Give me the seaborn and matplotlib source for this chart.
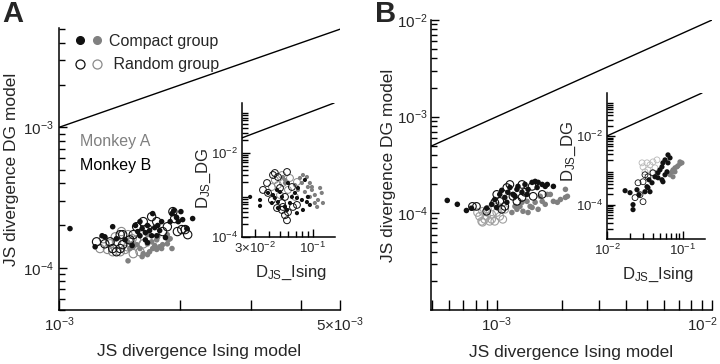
import numpy as np
import pandas as pd
import matplotlib
matplotlib.use("Agg")
import matplotlib.pyplot as plt
import matplotlib.transforms as mtransforms
import seaborn as sns
from matplotlib.lines import Line2D
from matplotlib.legend_handler import HandlerTuple

# ---------------- data ----------------
# Panel A, main axes (x in units of 1e-3, y in units of 1e-4)
pA_mB_comp_x = [1.065, 1.23, 1.28, 1.30, 1.36, 1.39, 1.46, 1.55, 1.57, 1.59, 1.61, 1.64, 1.66, 1.68,
                1.70, 1.71, 1.73, 1.75, 1.78, 1.66, 1.80, 1.84, 1.89, 1.91, 1.93, 1.96, 1.98, 2.01,
                2.03, 2.08, 2.15, 1.52, 1.64, 1.76, 1.59]
pA_mB_comp_y = [1.90, 1.41, 1.69, 1.66, 1.96, 1.61, 1.58, 2.00, 1.81, 1.69, 1.90, 1.78, 2.00, 1.84,
                1.69, 2.43, 1.93, 1.69, 1.84, 1.51, 2.13, 1.64, 2.13, 2.43, 2.55, 2.28, 2.13, 2.51,
                2.20, 1.90, 2.24, 1.44, 1.58, 2.00, 2.13]
pA_mB_rand_x = [1.24, 1.34, 1.36, 1.39, 1.42, 1.44, 1.44, 1.50, 1.53, 1.56, 1.62, 1.66, 1.70, 1.75,
                1.81, 1.86, 1.92, 1.94, 1.97, 2.02, 2.06, 2.09, 1.42, 1.30]
pA_mB_rand_y = [1.53, 1.53, 1.37, 1.30, 1.37, 1.46, 1.72, 1.58, 1.72, 1.96, 2.13, 1.90, 2.31, 2.13,
                1.81, 1.96, 2.51, 2.24, 1.81, 1.87, 1.87, 1.72, 1.72, 1.48]
pA_mA_comp_x = [1.485, 1.61, 1.62, 1.66, 1.71, 1.75, 1.78, 1.81, 1.86, 1.89, 1.91, 1.80, 1.68, 1.59,
                1.53, 1.52, 1.56, 1.66, 1.70, 1.75, 1.76, 1.66, 1.86, 1.87, 1.50, 1.48, 1.73]
pA_mA_comp_y = [1.12, 1.20, 1.26, 1.24, 1.37, 1.35, 1.41, 1.46, 1.48, 1.61, 1.37, 1.37, 1.30, 1.37,
                1.41, 1.48, 1.46, 1.48, 1.53, 1.58, 1.66, 1.72, 1.72, 1.58, 1.37, 1.53, 1.44]
pA_mA_rand_x = [1.265, 1.32, 1.36, 1.42, 1.46, 1.34, 1.29, 1.39, 1.48, 1.53, 1.59, 1.52, 1.485, 1.43,
                1.38, 1.62, 1.56]
pA_mA_rand_y = [1.37, 1.35, 1.30, 1.30, 1.35, 1.48, 1.61, 1.53, 1.41, 1.26, 1.30, 1.61, 1.72, 1.81,
                1.66, 1.48, 1.58]

# Panel A, inset (x plain, y in units of 1e-3)
pAi_mB_comp_x = [0.0271, 0.0333, 0.0333, 0.0393, 0.0436, 0.0426, 0.0483, 0.0474, 0.0525, 0.0559,
                 0.0583, 0.0620, 0.0646, 0.0688, 0.0732, 0.0717, 0.0795, 0.0812, 0.0846, 0.0882,
                 0.0900, 0.0938, 0.0717, 0.0504, 0.0595, 0.0483, 0.0453]
pAi_mB_comp_y = [0.90, 0.76, 0.55, 1.12, 1.00, 0.645, 0.68, 1.32, 0.90, 0.52, 0.44, 0.645, 0.90,
                 1.12, 1.47, 0.85, 0.76, 0.44, 2.28, 0.68, 0.90, 0.58, 0.37, 1.18, 1.93, 0.49, 0.85]
pAi_mA_comp_x = [0.0812, 0.0882, 0.0938, 0.0978, 0.104, 0.111, 0.116, 0.120, 0.109, 0.104, 0.0978,
                 0.0900, 0.0795, 0.0763, 0.0732, 0.0688, 0.0559, 0.0559, 0.123, 0.0846, 0.0938, 0.0536]
pAi_mA_comp_y = [2.99, 2.68, 1.93, 1.55, 1.00, 0.76, 1.47, 1.12, 0.52, 0.645, 1.32, 1.55, 1.93, 2.54,
                 1.32, 1.73, 1.93, 2.28, 0.645, 1.18, 0.90, 2.68]
pAi_mB_rand_x = [0.0385, 0.0393, 0.0436, 0.0453, 0.0483, 0.0504, 0.0525, 0.0536, 0.0559, 0.0583,
                 0.0595, 0.0525, 0.0474, 0.0660, 0.0717, 0.0583, 0.0559, 0.0646, 0.0426, 0.0354]
pAi_mB_rand_y = [1.93, 1.12, 2.99, 3.34, 2.68, 1.47, 0.645, 0.52, 0.33, 0.25, 0.39, 0.44, 0.49, 0.52,
                 0.58, 3.53, 0.90, 1.55, 0.76, 1.32]
pAi_mA_rand_x = [0.0453, 0.0525, 0.0595, 0.0688, 0.0483, 0.0426, 0.0620, 0.0717, 0.0536, 0.0504]
pAi_mA_rand_y = [2.28, 2.99, 1.32, 0.90, 1.73, 1.55, 2.54, 2.04, 1.93, 1.00]

# Panel B, main axes (x in units of 1e-3, y in units of 1e-4)
pB_mB_comp_x = [0.589, 0.656, 0.723, 0.763, 0.898, 0.947, 0.979, 1.033, 1.055, 1.090, 1.126, 1.151,
                1.189, 1.241, 1.255, 1.310, 1.353, 1.398, 1.460, 1.508, 1.54, 1.557, 1.626, 1.680,
                1.717, 1.833, 1.383, 1.215, 1.00, 1.114]
pB_mB_comp_y = [1.36, 1.24, 1.07, 1.13, 1.13, 1.24, 1.39, 1.57, 1.73, 1.46, 1.65, 1.85, 1.57, 1.77,
                1.90, 1.65, 1.99, 1.77, 2.09, 2.14, 1.85, 2.09, 1.99, 1.90, 1.99, 1.90, 1.57, 1.50,
                1.15, 1.30]
pB_mB_rand_x = [0.771, 0.805, 0.898, 1.00, 1.033, 1.114, 1.151, 1.189, 1.241, 1.310, 1.353, 1.460,
                1.476, 1.310, 1.626, 1.055, 0.979, 1.090]
pB_mB_rand_y = [1.18, 1.18, 1.05, 1.57, 1.33, 1.85, 1.99, 1.50, 1.33, 1.46, 1.65, 1.90, 1.50, 1.99,
                1.57, 1.10, 1.30, 1.18]
pB_mA_rand_x = [0.814, 0.851, 0.859, 0.832, 0.898, 0.947, 0.979, 1.00, 1.033, 1.067, 1.090, 0.907,
                0.947, 1.011, 0.879, 0.927, 0.859]
pB_mA_rand_y = [1.02, 0.827, 0.808, 0.931, 0.931, 0.867, 0.827, 1.02, 0.931, 0.867, 1.10, 1.10,
                0.977, 1.18, 0.867, 0.827, 1.05]
pB_mA_comp_x = [1.176, 1.241, 1.282, 1.324, 1.383, 1.429, 1.508, 1.557, 1.626, 1.680, 1.774, 1.833,
                1.913, 1.977, 2.085, 2.085, 1.215, 1.310, 1.398, 1.592, 1.717, 2.13, 1.46]
pB_mA_comp_y = [1.02, 1.10, 1.18, 1.05, 1.33, 1.18, 1.30, 1.10, 1.33, 1.24, 1.57, 1.33, 1.30, 1.39,
                1.77, 1.46, 1.18, 1.30, 1.02, 1.50, 1.57, 1.50, 1.15]

# Panel B, inset (x in units of 1e-2, y in units of 1e-3)
pBi_mB_comp_x = [1.73, 2.01, 2.20, 2.20, 2.48, 2.64, 3.16, 3.46, 3.68, 3.36, 3.57, 4.28, 4.69, 4.98,
                 5.29, 5.45, 5.80, 6.35, 6.75, 6.16, 5.29, 4.69, 5.80, 6.35, 5.45, 3.91]
pBi_mB_comp_y = [0.255, 0.223, 0.100, 0.0716, 0.272, 0.195, 0.238, 0.311, 0.238, 0.333, 0.531, 0.648,
                 0.847, 1.03, 1.26, 1.65, 2.01, 2.81, 2.30, 0.905, 0.531, 0.607, 0.741, 1.65, 0.464,
                 0.434]
pBi_mA_comp_x = [7.17, 7.39, 7.85, 8.34, 8.59, 9.13, 9.70, 7.39, 9.13, 6.75, 7.85]
pBi_mA_comp_y = [0.905, 1.03, 1.18, 1.26, 1.35, 1.54, 1.65, 0.648, 1.76, 0.741, 0.905]
pBi_mA_rand_x = [2.98, 3.36, 3.68, 4.03, 4.28, 3.16, 3.46, 4.55, 3.91, 2.89]
pBi_mA_rand_y = [1.26, 1.65, 1.44, 1.76, 1.18, 0.905, 1.03, 2.01, 0.847, 1.65]
pBi_mB_rand_x = [2.56, 2.98, 2.34, 2.98, 3.46, 4.03, 2.72, 3.16]
pBi_mB_rand_y = [0.434, 0.464, 0.160, 0.122, 0.648, 0.847, 0.195, 0.741]

# ---------------- style ----------------
sns.set_style("ticks")
plt.rcParams["font.family"] = ["Liberation Sans", "DejaVu Sans"]
plt.rcParams["mathtext.fontset"] = "custom"
plt.rcParams["mathtext.rm"] = "Liberation Sans"
plt.rcParams["mathtext.it"] = "Liberation Sans:italic"
plt.rcParams["mathtext.bf"] = "Liberation Sans:bold"
plt.rcParams["axes.linewidth"] = 1.1
plt.rcParams["axes.edgecolor"] = "black"

BLACK = "#111111"
GRAY = "#808080"
GRAY_OPEN = "#8a8a8a"


def frame(xs, ys, sx, sy):
    return pd.DataFrame({"x": np.asarray(xs) * sx, "y": np.asarray(ys) * sy})


def draw_groups(ax, groups, s_fill, s_open, lw_open, gray_open=GRAY_OPEN):
    sns.scatterplot(data=groups["mA_rand"], x="x", y="y", ax=ax, s=s_open, marker="o",
                    facecolor="none", edgecolor=gray_open, linewidth=lw_open, zorder=3)
    sns.scatterplot(data=groups["mA_comp"], x="x", y="y", ax=ax, s=s_fill, marker="o",
                    color=GRAY, edgecolor="none", linewidth=0, zorder=3)
    sns.scatterplot(data=groups["mB_rand"], x="x", y="y", ax=ax, s=s_open, marker="o",
                    facecolor="none", edgecolor=BLACK, linewidth=lw_open, zorder=4)
    sns.scatterplot(data=groups["mB_comp"], x="x", y="y", ax=ax, s=s_fill, marker="o",
                    color=BLACK, edgecolor="none", linewidth=0, zorder=5)


def style_axes(ax, fs, pad=4):
    sns.despine(ax=ax)
    ax.set_xscale("log")
    ax.set_yscale("log")
    ax.tick_params(which="both", direction="in", color="black", width=1.0, labelsize=fs, pad=pad)
    ax.tick_params(which="major", length=6)
    ax.tick_params(which="minor", length=4)
    ax.axline((1e-3, 1e-3), (1e-2, 1e-2), color="black", lw=1.0, zorder=2)


fig = plt.figure(figsize=(7.2, 3.64), dpi=100)

# ---------- Panel A main ----------
axA = fig.add_axes([59 / 720, 54 / 364, 281 / 720, 282 / 364])
style_axes(axA, 11)
draw_groups(axA, {
    "mB_comp": frame(pA_mB_comp_x, pA_mB_comp_y, 1e-3, 1e-4),
    "mB_rand": frame(pA_mB_rand_x, pA_mB_rand_y, 1e-3, 1e-4),
    "mA_comp": frame(pA_mA_comp_x, pA_mA_comp_y, 1e-3, 1e-4),
    "mA_rand": frame(pA_mA_rand_x, pA_mA_rand_y, 1e-3, 1e-4),
}, s_fill=16, s_open=36, lw_open=0.8)
axA.set_xlim(1e-3, 5e-3)
axA.set_ylim(5e-5, 5.1e-3)
axA.set_xticks([1e-3, 5e-3], [r"$10^{-3}$", r"$5{\times}10^{-3}$"])
axA.set_xticks([2e-3, 3e-3, 4e-3], minor=True)
axA.set_xticklabels([], minor=True)
axA.set_yticks([1e-4, 1e-3], [r"$10^{-4}$", r"$10^{-3}$"])
axA.yaxis.set_minor_locator(matplotlib.ticker.LogLocator(base=10, subs=np.arange(2, 10)))
axA.yaxis.set_minor_formatter(matplotlib.ticker.NullFormatter())
axA.tick_params(axis="x", which="both", length=7)
axA.set_xlabel("JS divergence Ising model", fontsize=12.5)
axA.set_ylabel("JS divergence DG model", fontsize=12.5)
axA.xaxis.set_label_coords(0.5, -0.12)
axA.yaxis.set_label_coords(-0.142, 0.5)

# legend
h_comp = (Line2D([], [], marker="o", ls="none", color=BLACK, markersize=5.5),
          Line2D([], [], marker="o", ls="none", color=GRAY, markersize=5.5))
h_rand = (Line2D([], [], marker="o", ls="none", markerfacecolor="none", markeredgecolor=BLACK,
                 markersize=6.5, markeredgewidth=0.9),
          Line2D([], [], marker="o", ls="none", markerfacecolor="none", markeredgecolor=GRAY_OPEN,
                 markersize=6.5, markeredgewidth=0.9))
axA.legend([h_comp, h_rand], ["Compact group", " Random group"],
           handler_map={tuple: HandlerTuple(ndivide=None, pad=0.6)},
           loc="upper left", bbox_to_anchor=(0.06, 0.98), frameon=False, fontsize=11.5,
           handlelength=1.6, handletextpad=0.5, labelspacing=0.55, borderpad=0, borderaxespad=0)
axA.text(0.075, 0.596, "Monkey A", color=GRAY, fontsize=11.5, transform=axA.transAxes, va="center")
axA.text(0.075, 0.514, "Monkey B", color="black", fontsize=11.5, transform=axA.transAxes, va="center")

# ---------- Panel A inset ----------
axAi = fig.add_axes([242 / 720, 127 / 364, 93 / 720, 134 / 364])
axAi.patch.set_alpha(0)
style_axes(axAi, 9.5, pad=3)
draw_groups(axAi, {
    "mB_comp": frame(pAi_mB_comp_x, pAi_mB_comp_y, 1, 1e-3),
    "mB_rand": frame(pAi_mB_rand_x, pAi_mB_rand_y, 1, 1e-3),
    "mA_comp": frame(pAi_mA_comp_x, pAi_mA_comp_y, 1, 1e-3),
    "mA_rand": frame(pAi_mA_rand_x, pAi_mA_rand_y, 1, 1e-3),
}, s_fill=9, s_open=24, lw_open=0.7)
axAi.set_xlim(0.0229, 0.158)
axAi.set_ylim(1e-4, 0.155)
axAi.set_xticks([3e-2, 1e-1], [r"$3{\times}10^{-2}$", r"$10^{-1}$"])
axAi.set_xticks([4e-2, 5e-2, 6e-2, 7e-2, 8e-2, 9e-2], minor=True)
axAi.set_xticklabels([], minor=True)
axAi.set_yticks([1e-4, 1e-2], [r"$10^{-4}$", r"$10^{-2}$"])
axAi.yaxis.set_minor_locator(matplotlib.ticker.LogLocator(base=10, subs=np.arange(2, 10)))
axAi.yaxis.set_minor_formatter(matplotlib.ticker.NullFormatter())
axAi.set_xlabel(r"D$_{\mathrm{JS}}$_Ising", fontsize=12)
axAi.set_ylabel(r"D$_{\mathrm{JS}}$_DG", fontsize=12)
axAi.xaxis.set_label_coords(0.53, -0.2)
axAi.yaxis.set_label_coords(-0.31, 0.44)

# ---------- Panel B main ----------
axB = fig.add_axes([431 / 720, 54 / 364, 281 / 720, 290 / 364])
style_axes(axB, 11, pad=2.5)
draw_groups(axB, {
    "mB_comp": frame(pB_mB_comp_x, pB_mB_comp_y, 1e-3, 1e-4),
    "mB_rand": frame(pB_mB_rand_x, pB_mB_rand_y, 1e-3, 1e-4),
    "mA_comp": frame(pB_mA_comp_x, pB_mA_comp_y, 1e-3, 1e-4),
    "mA_rand": frame(pB_mA_rand_x, pB_mA_rand_y, 1e-3, 1e-4),
}, s_fill=16, s_open=30, lw_open=0.8, gray_open="#a0a0a0")
axB.set_xlim(4.95e-4, 1e-2)
axB.set_ylim(1e-5, 1e-2)
axB.set_xticks([1e-3, 1e-2], [r"$10^{-3}$", r"$10^{-2}$"])
axB.set_yticks([1e-4, 1e-3, 1e-2], [r"$10^{-4}$", r"$10^{-3}$", r"$10^{-2}$"])
for axis in (axB.xaxis, axB.yaxis):
    axis.set_minor_locator(matplotlib.ticker.LogLocator(base=10, subs=np.arange(2, 10)))
    axis.set_minor_formatter(matplotlib.ticker.NullFormatter())
axB.tick_params(axis="x", which="both", length=7, pad=4)
axB.set_xlabel("JS divergence Ising model", fontsize=12.5)
axB.set_ylabel("JS divergence DG model", fontsize=12.5)
axB.xaxis.set_label_coords(0.5, -0.12)
axB.yaxis.set_label_coords(-0.125, 0.5)
# shift the rightmost x tick label inward so that it stays inside the figure
fig.canvas.draw()
last_lbl = axB.get_xticklabels()[-1]
last_lbl.set_transform(last_lbl.get_transform() +
                       mtransforms.ScaledTranslation(-10 / 100, 0, fig.dpi_scale_trans))

# ---------- Panel B inset ----------
axBi = fig.add_axes([607 / 720, 125 / 364, 98 / 720, 146 / 364])
axBi.patch.set_alpha(0)
style_axes(axBi, 9.5, pad=3)
draw_groups(axBi, {
    "mB_comp": frame(pBi_mB_comp_x, pBi_mB_comp_y, 1e-2, 1e-3),
    "mB_rand": frame(pBi_mB_rand_x, pBi_mB_rand_y, 1e-2, 1e-3),
    "mA_comp": frame(pBi_mA_comp_x, pBi_mA_comp_y, 1e-2, 1e-3),
    "mA_rand": frame(pBi_mA_rand_x, pBi_mA_rand_y, 1e-2, 1e-3),
}, s_fill=14, s_open=18, lw_open=0.6, gray_open="#b8b8b8")
axBi.set_xlim(1e-2, 0.195)
axBi.set_ylim(1e-5, 0.178)
axBi.set_xticks([1e-2, 1e-1], [r"$10^{-2}$", r"$10^{-1}$"])
axBi.set_yticks([1e-4, 1e-2], [r"$10^{-4}$", r"$10^{-2}$"])
for axis in (axBi.xaxis, axBi.yaxis):
    axis.set_minor_locator(matplotlib.ticker.LogLocator(base=10, subs=np.arange(2, 10)))
    axis.set_minor_formatter(matplotlib.ticker.NullFormatter())
axBi.set_xlabel(r"D$_{\mathrm{JS}}$_Ising", fontsize=12)
axBi.set_ylabel(r"D$_{\mathrm{JS}}$_DG", fontsize=12)
axBi.xaxis.set_label_coords(0.52, -0.18)
axBi.yaxis.set_label_coords(-0.3, 0.6)

# panel letters
fig.text(13 / 720, 1 - 14 / 364, "A", fontsize=21, fontweight="bold", ha="center", va="center")
fig.text(386 / 720, 1 - 14 / 364, "B", fontsize=21, fontweight="bold", ha="center", va="center")

fig.savefig("out.png", dpi=100)
